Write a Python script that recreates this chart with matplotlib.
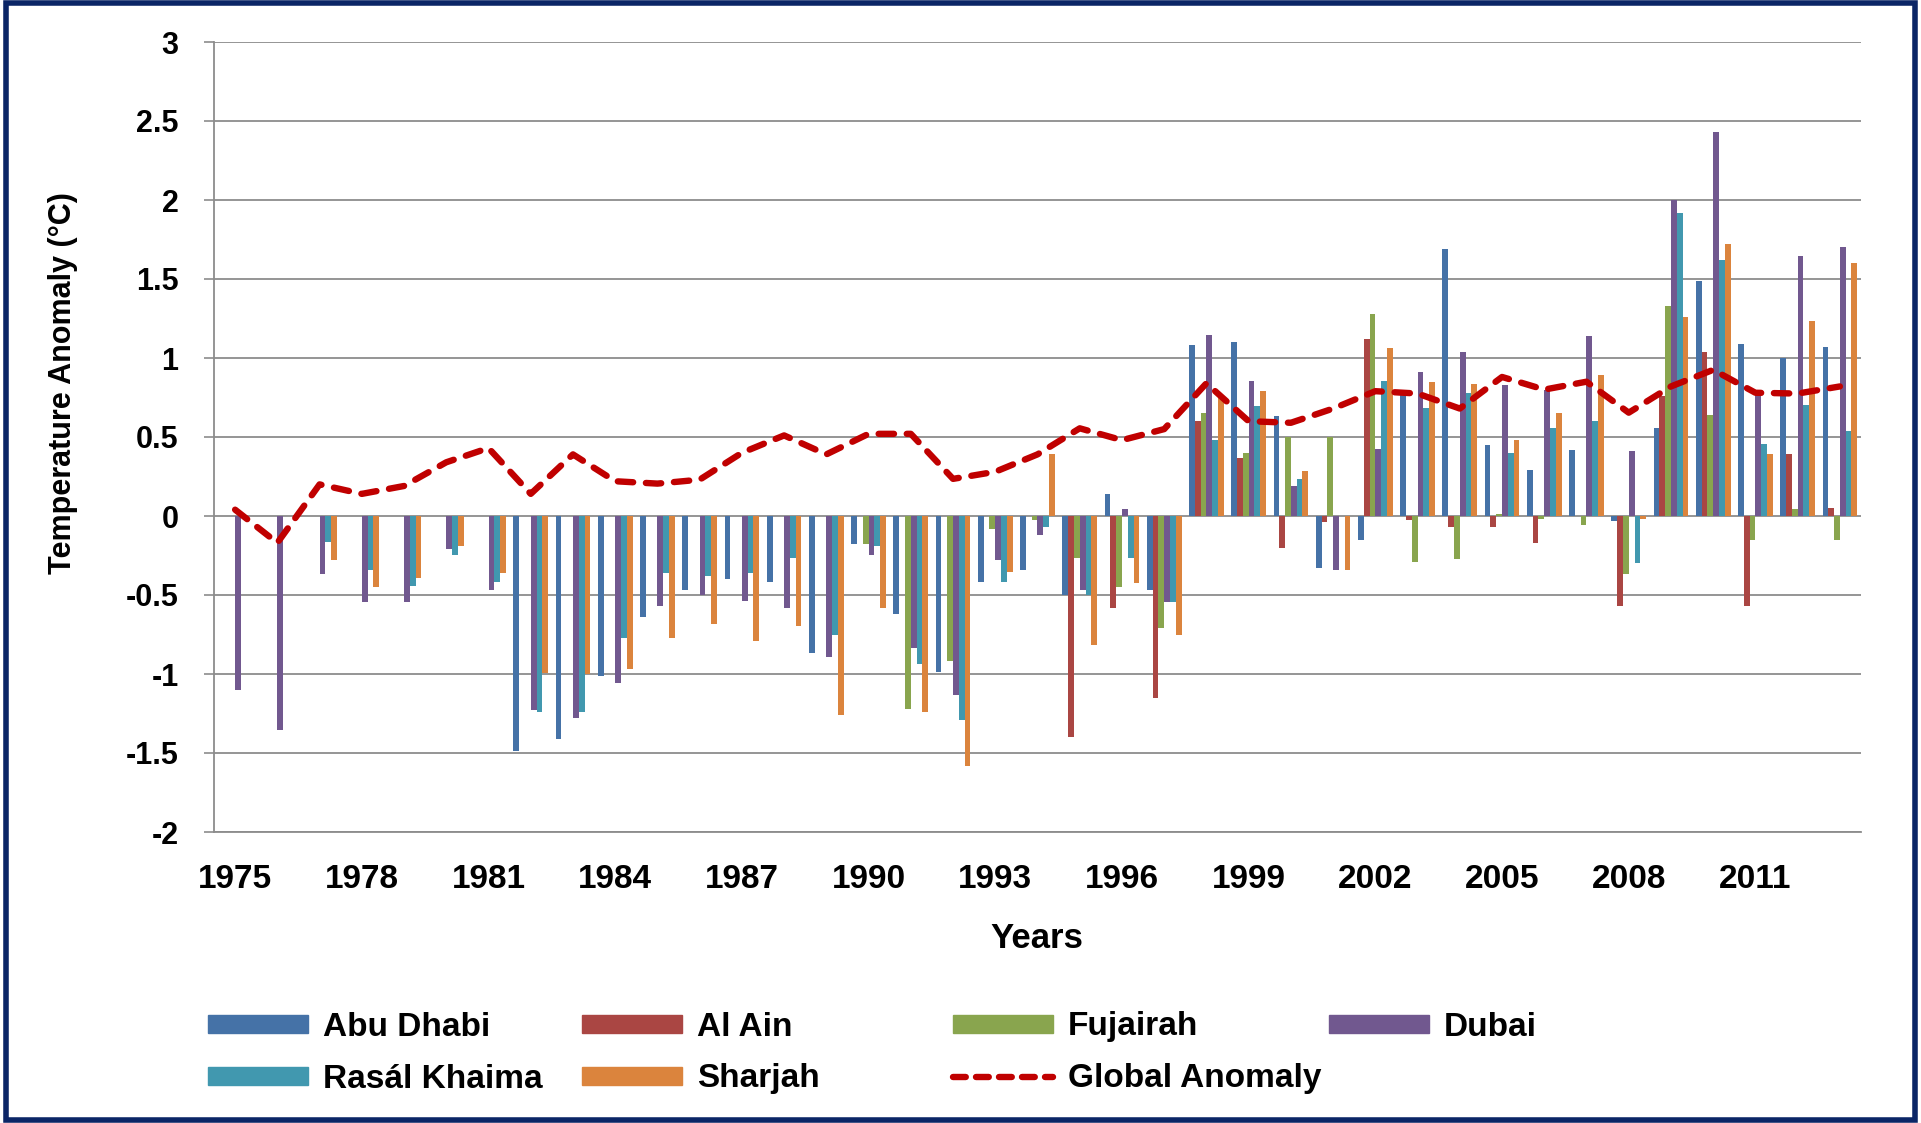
import numpy as np
import matplotlib
matplotlib.use("Agg")
import matplotlib.pyplot as plt
from matplotlib.patches import Patch, Rectangle
from matplotlib.lines import Line2D

plt.rcParams["font.family"] = ["Liberation Sans", "DejaVu Sans"]
plt.rcParams["font.weight"] = "bold"

nan = np.nan
years = list(range(1975, 2014))

# station anomalies (deg C), one value per year 1975-2013, nan = no bar
abu_dhabi = [nan, nan, nan, nan, nan,
             nan, nan, -1.49, -1.41, -1.01,
             -0.64, -0.47, -0.40, -0.42, -0.87,
             -0.18, -0.62, -0.99, -0.42, -0.34,
             -0.50, 0.14, -0.47, 1.08, 1.10,
             0.63, -0.33, -0.155, 0.785, 1.69,
             0.45, 0.29, 0.42, -0.03, 0.56,
             1.49, 1.09, 1.00, 1.07]
al_ain = [nan, nan, nan, nan, nan,
          nan, nan, nan, nan, nan,
          nan, nan, nan, nan, nan,
          nan, nan, nan, nan, nan,
          -1.40, -0.58, -1.15, 0.60, 0.37,
          -0.20, -0.04, 1.12, -0.025, -0.07,
          -0.07, -0.17, nan, -0.57, 0.76,
          1.04, -0.57, 0.39, 0.05]
fujairah = [nan, nan, nan, nan, nan,
            nan, nan, nan, nan, nan,
            nan, nan, nan, nan, nan,
            -0.18, -1.22, -0.92, -0.08, -0.025,
            -0.265, -0.45, -0.71, 0.65, 0.40,
            0.50, 0.50, 1.28, -0.29, -0.27,
            0.015, -0.02, -0.06, -0.37, 1.33,
            0.64, -0.15, 0.045, -0.155]
dubai = [-1.10, -1.355, -0.37, -0.545, -0.545,
         -0.21, -0.47, -1.225, -1.28, -1.06,
         -0.57, -0.50, -0.535, -0.58, -0.89,
         -0.245, -0.835, -1.13, -0.28, -0.12,
         -0.47, 0.047, -0.545, 1.145, 0.855,
         0.19, -0.34, 0.425, 0.91, 1.04,
         0.83, 0.80, 1.14, 0.41, 2.00,
         2.43, 0.785, 1.645, 1.70]
ras_al_khaima = [nan, nan, -0.166, -0.34, -0.446,
                 -0.244, -0.416, -1.238, -1.24, -0.77,
                 -0.36, -0.38, -0.36, -0.265, -0.754,
                 -0.187, -0.934, -1.29, -0.416, -0.07,
                 -0.50, -0.265, -0.545, 0.48, 0.695,
                 0.235, nan, 0.855, 0.685, 0.78,
                 0.40, 0.56, 0.60, -0.30, 1.915,
                 1.62, 0.455, 0.70, 0.54]
sharjah = [nan, nan, -0.276, -0.45, -0.395,
           -0.187, -0.36, -0.994, -1.0, -0.966,
           -0.77, -0.686, -0.79, -0.696, -1.26,
           -0.58, -1.238, -1.58, -0.353, 0.39,
           -0.817, -0.427, -0.754, 0.754, 0.79,
           0.285, -0.34, 1.066, 0.85, 0.834,
           0.478, 0.65, 0.89, -0.02, 1.26,
           1.72, 0.39, 1.235, 1.60]
global_anomaly = [0.04, -0.17, 0.20, 0.14, 0.19,
                  0.34, 0.43, 0.14, 0.39, 0.22,
                  0.205, 0.23, 0.40, 0.51, 0.39,
                  0.52, 0.52, 0.235, 0.28, 0.39,
                  0.555, 0.48, 0.55, 0.84, 0.60,
                  0.59, 0.68, 0.79, 0.775, 0.68,
                  0.88, 0.80, 0.85, 0.654, 0.82,
                  0.925, 0.78, 0.775, 0.82]

station_names = ["Abu Dhabi", "Al Ain", "Fujairah", "Dubai", "Rasál Khaima", "Sharjah"]
station_values = [abu_dhabi, al_ain, fujairah, dubai, ras_al_khaima, sharjah]
station_colors = ["#4572A7", "#AA4643", "#89A54E", "#71588F", "#4198AF", "#DB843D"]
line_color = "#C00000"
grid_color = "#8C8C8C"

y_ticks = [3, 2.5, 2, 1.5, 1, 0.5, 0, -0.5, -1, -1.5, -2]
y_labels = ["3", "2.5", "2", "1.5", "1", "0.5", "0", "-0.5", "-1", "-1.5", "-2"]
x_label_years = years[::3]

W, H = 1921, 1123
fig = plt.figure(figsize=(W / 100, H / 100), dpi=100)
ax = fig.add_axes([214 / W, 1 - 832 / H, (1861 - 214) / W, (832 - 42) / H])

x = np.arange(len(years))
bw = 0.137
for i, (vals, col) in enumerate(zip(station_values, station_colors)):
    ax.bar(x + (i - 2.5) * bw, vals, width=bw, color=col, zorder=2, linewidth=0)

ax.plot(x, global_anomaly, color=line_color, lw=4.6, dashes=(2.4, 2.0),
        dash_capstyle="round", zorder=3)

ax.set_xlim(-0.5, len(years) - 0.5)
ax.set_ylim(-2, 3)
ax.set_yticks(y_ticks)
ax.set_yticklabels(y_labels, fontsize=22, fontweight="bold")
ax.set_xticks([years.index(y) for y in x_label_years])
ax.set_xticklabels([str(y) for y in x_label_years], fontsize=24, fontweight="bold")
ax.tick_params(axis="y", length=7.5, width=1.2, color=grid_color, pad=18)
ax.tick_params(axis="x", length=0, pad=23)
ax.yaxis.grid(True, color=grid_color, lw=1.3, zorder=0)
ax.set_axisbelow(True)
for s in ["top", "right"]:
    ax.spines[s].set_visible(False)
for s in ["left", "bottom"]:
    ax.spines[s].set_color(grid_color)
    ax.spines[s].set_linewidth(1.3)

fig.text(63 / W, 1 - 383 / H, "Temperature Anomaly (°C)", rotation=90,
         ha="center", va="center", fontsize=22, fontweight="bold")
fig.text(1037 / W, 1 - 939 / H, "Years", ha="center", va="center",
         fontsize=25, fontweight="bold")

# legend, laid out like the Excel one: 4 columns x 2 rows
handles = [Patch(color=c) for c in station_colors]
handles.append(Line2D([], [], color=line_color, lw=4.6, dashes=(2.0, 1.6),
                      dash_capstyle="round"))
labels = station_names + ["Global Anomaly"]
slots = [(208, 1027), (582, 1027), (953, 1027), (1329, 1027),
         (208, 1079), (582, 1079), (953, 1079)]
for h, lab, (px, py) in zip(handles, labels, slots):
    fig.legend([h], [lab], loc="center left",
               bbox_to_anchor=(px / W, 1 - py / H), frameon=False,
               borderpad=0, borderaxespad=0, handlelength=3.0,
               handleheight=0.45, handletextpad=0.45,
               prop={"size": 24, "weight": "bold"})

fig.patches.append(Rectangle((0.003, 0.003), 0.994, 0.994, transform=fig.transFigure,
                             fill=False, edgecolor="#0B2566", lw=4))

fig.savefig("out.png", dpi=100)
